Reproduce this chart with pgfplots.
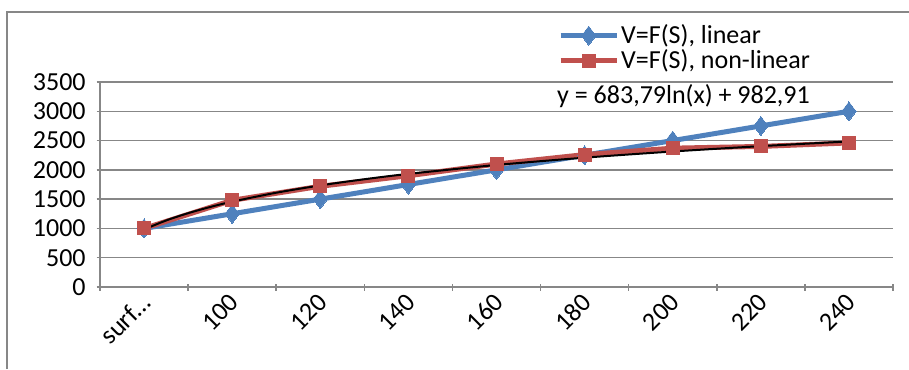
\documentclass[border=0pt]{standalone}
\usepackage{pgfplots}
\pgfplotsset{compat=1.18}
\usepackage{fontspec}
\setmainfont{Carlito}
\definecolor{exblue}{HTML}{4F81BD}
\definecolor{exred}{HTML}{C0504D}
\definecolor{exgrid}{HTML}{878787}
\begin{document}
\fontsize{26}{30}\selectfont
\begin{tikzpicture}
\path[use as bounding box] (-100pt,-82pt) rectangle (809pt,287pt);
\draw[exgrid, line width=1.5pt] (-93pt,-82pt) -- (-93pt,275pt) -- (809pt,275pt);
\begin{axis}[
  at={(0pt,0pt)}, anchor=south west,
  scale only axis, width=793pt, height=205pt,
  xmin=0.5, xmax=9.5, ymin=0, ymax=3500,
  ytick={0,500,...,3500},
  xtick={1,...,9},
  xticklabels={surf…,100,120,140,160,180,200,220,240},
  minor xtick={0.5,1.5,...,9.5},
  major x tick style={draw=none},
  minor tick length=7pt, major tick length=7pt,
  tick align=outside,
  tick style={exgrid, line width=1.5pt},
  axis x line=bottom, axis y line=left,
  axis line style={-, exgrid, line width=1.5pt},
  ymajorgrids, grid style={exgrid, line width=1.5pt},
  /pgf/number format/assume math mode=true,
  /pgf/number format/1000 sep={},
  ticklabel style={font=\fontsize{26}{30}\selectfont},
  xticklabel style={rotate=45, anchor=east, xshift=5pt, yshift=-7pt},
  yticklabel style={xshift=-2pt},
  legend style={at={(0.5776,1.293)}, anchor=north west, draw=none, fill=none,
    font=\fontsize{26}{30}\selectfont, row sep=-2pt,
    inner xsep=0pt, inner ysep=0pt},
  legend cell align=left,
  legend image code/.code={%
    \draw[mark repeat=2,mark phase=2] plot coordinates {(0pt,0pt) (28pt,0pt) (56pt,0pt)};},
  clip=false,
]
\addplot[exblue, line width=5pt, mark=diamond*, mark size=9.5pt, mark options={line width=0pt}]
  coordinates {(1,1000) (2,1250) (3,1500) (4,1750) (5,2000) (6,2250) (7,2500) (8,2750) (9,3000)};
\addlegendentry{V=F(S), linear}
\addplot[exred, line width=5pt, mark=square*, mark size=6.5pt, mark options={line width=0pt}]
  coordinates {(1,1000) (2,1480) (3,1720) (4,1900) (5,2100) (6,2260) (7,2370) (8,2400) (9,2460)};
\addlegendentry{V=F(S), non-linear}
\addplot[black, line width=2pt, smooth, forget plot]
  coordinates {(1,982.9) (1.25,1135.5) (1.5,1260.2) (1.75,1365.6) (2,1456.9) (2.5,1609.5)
   (3,1734.1) (3.5,1839.5) (4,1930.9) (5,2083.4) (6,2208.1) (7,2313.5) (8,2404.8) (9,2485.3)};
\node[anchor=west, inner sep=0pt] at (axis cs:5.687,3261) {y = 683,79ln(x) + 982,91};
\end{axis}
\end{tikzpicture}
\end{document}
